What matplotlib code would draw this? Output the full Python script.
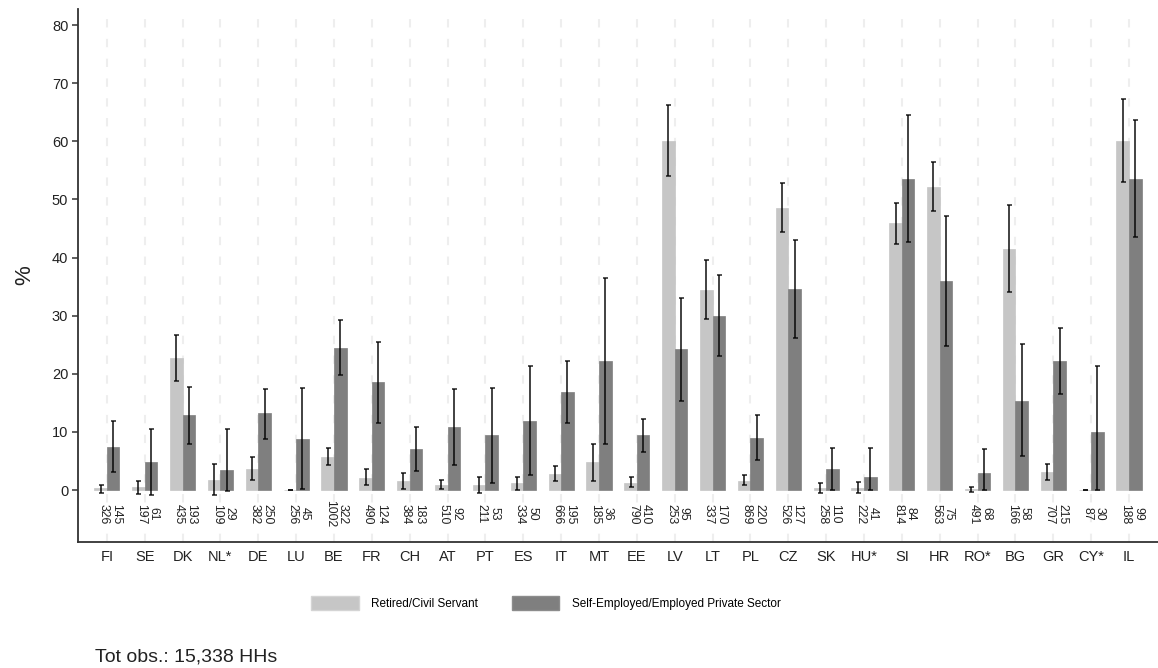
import matplotlib
matplotlib.use("Agg")
import matplotlib.pyplot as plt
import matplotlib.patches as mpatches
import numpy as np

plt.rcParams["font.family"] = ["Liberation Sans", "DejaVu Sans"]

countries = ["FI", "SE", "DK", "NL*", "DE", "LU", "BE", "FR", "CH", "AT", "PT",
             "ES", "IT", "MT", "EE", "LV", "LT", "PL", "CZ", "SK", "HU*", "SI",
             "HR", "RO*", "BG", "GR", "CY*", "IL"]

# Retired / civil servant: share, 95% CI bounds, number of households
ret_pct = [0.3, 0.45, 22.7, 1.8, 3.6, 0.0, 5.7, 2.1, 1.5, 0.9, 0.9, 1.15, 2.8, 4.8,
           1.26, 60.0, 34.4, 1.6, 48.6, 0.3, 0.3, 45.9, 52.2, 0.2, 41.5, 3.1, 0.0, 60.0]
ret_lo = [-0.5, -0.6, 18.8, -0.9, 1.7, 0.0, 4.25, 0.8, 0.2, 0.1, -0.5, 0.0, 1.55, 1.6,
          0.46, 54.0, 29.4, 0.86, 44.4, -0.5, -0.5, 42.4, 48.0, -0.3, 34.0, 1.7, 0.0, 53.0]
ret_hi = [0.9, 1.55, 26.7, 4.4, 5.6, 0.0, 7.2, 3.6, 2.9, 1.8, 2.3, 2.3, 4.1, 8.0,
          2.2, 66.2, 39.6, 2.6, 52.9, 1.15, 1.3, 49.4, 56.4, 0.6, 49.1, 4.4, 0.0, 67.2]
ret_n = [326, 197, 435, 109, 382, 256, 1002, 490, 384, 510, 211, 334, 666, 185,
         790, 253, 337, 869, 526, 258, 222, 814, 563, 491, 166, 707, 87, 188]

# Self-employed / employed private sector
emp_pct = [7.45, 4.9, 12.9, 3.4, 13.2, 8.8, 24.5, 18.5, 7.0, 10.8, 9.4, 11.9, 16.9, 22.2,
           9.5, 24.2, 30.0, 9.0, 34.6, 3.6, 2.3, 53.5, 36.0, 2.9, 15.4, 22.2, 9.9, 53.5]
emp_lo = [3.15, -0.9, 8.0, -0.1, 8.8, 0.1, 19.8, 11.5, 3.3, 4.3, 1.15, 2.6, 11.6, 7.9,
          6.6, 15.4, 23.05, 5.2, 26.2, 0.0, 0.0, 42.6, 24.8, 0.0, 5.85, 16.6, 0.0, 43.5]
emp_hi = [11.9, 10.5, 17.7, 10.5, 17.4, 17.5, 29.2, 25.4, 10.9, 17.3, 17.5, 21.3, 22.2, 36.5,
          12.3, 33.0, 37.0, 12.9, 43.0, 7.2, 7.3, 64.5, 47.1, 7.0, 25.1, 27.9, 21.4, 63.6]
emp_n = [145, 61, 193, 29, 250, 45, 322, 124, 183, 92, 53, 50, 195, 36,
         410, 95, 170, 220, 127, 110, 41, 84, 75, 68, 58, 215, 30, 99]

LIGHT = "#c6c6c6"
DARK = "#7f7f7f"
TXT = "#222222"

fig = plt.figure(figsize=(11.58, 6.68), dpi=100)
ax = fig.add_axes([0.0674, 0.189, 0.9324, 0.7975])

x = np.arange(len(countries))
w = 0.333

for off, pct, lo, hi, n, col in [(-w / 2, ret_pct, ret_lo, ret_hi, ret_n, LIGHT),
                                 (w / 2, emp_pct, emp_lo, emp_hi, emp_n, DARK)]:
    pct = np.array(pct)
    err = [pct - np.array(lo), np.array(hi) - pct]
    ax.bar(x + off, pct, width=w, color=col, edgecolor=col, linewidth=0.5, zorder=2)
    ax.errorbar(x + off, pct, yerr=err, fmt="none", ecolor="black", alpha=0.8,
                elinewidth=1.3, capsize=1.8, capthick=1.2, zorder=3)
    for xi, ni in zip(x + off, n):
        ax.text(xi + 0.07, -4.1, str(ni), rotation=270, ha="center", va="center",
                fontsize=8.8, color=TXT)

# dashed vertical guides at each country
for xi in x:
    ax.axvline(xi, color="#eeeeee", linewidth=1.5, dashes=(4, 5.5), zorder=0)

ax.set_xlim(-0.76, len(countries) - 0.24)
ax.set_ylim(-8.9, 82.75)
ax.set_yticks(np.arange(0, 81, 10))
ax.set_xticks(x)
ax.set_xticklabels(countries)
ax.tick_params(axis="x", length=0, pad=6, labelsize=10.5, labelcolor=TXT)
ax.tick_params(axis="y", length=4, width=1.1, pad=3, labelsize=10.5,
               labelcolor=TXT, color="#333333")
for s in ["top", "right"]:
    ax.spines[s].set_visible(False)
for s in ["left", "bottom"]:
    ax.spines[s].set_color("#333333")
    ax.spines[s].set_linewidth(1.3)
ax.set_ylabel("%", fontsize=16, color=TXT, labelpad=12)

handles = [mpatches.Patch(facecolor=LIGHT, edgecolor="#d4d4d4", label="Retired/Civil Servant"),
           mpatches.Patch(facecolor=DARK, edgecolor="#8c8c8c",
                          label="Self-Employed/Employed Private Sector")]
fig.legend(handles=handles, loc="center", bbox_to_anchor=(546 / 1158, 1 - 603 / 668),
           ncol=2, frameon=False, fontsize=8.5, handlelength=4.0, handleheight=1.36,
           handletextpad=1.05, columnspacing=2.9)

fig.text(95 / 1158, 1 - 657 / 668, "Tot obs.: 15,338 HHs", fontsize=14,
         color=TXT, ha="left", va="center")

fig.savefig("out.png", dpi=100)
plt.close(fig)
